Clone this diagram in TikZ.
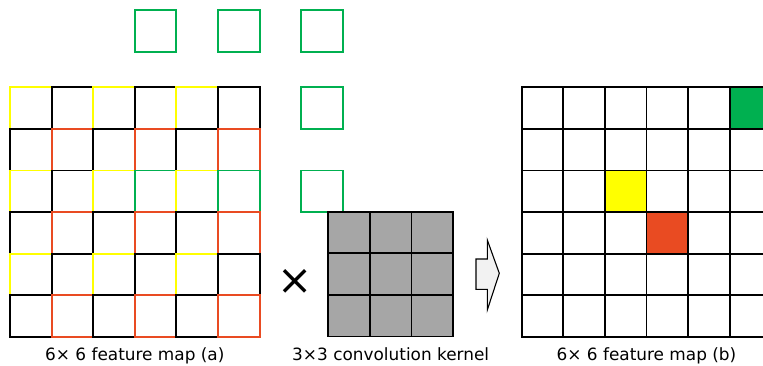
\documentclass[tikz,border=0pt]{standalone}
\usepackage{fontspec}
\setmainfont{DejaVu Sans}
\definecolor{cyel}{HTML}{FFFF00}
\definecolor{cred}{HTML}{E94B22}
\definecolor{cgrn}{HTML}{00B050}
\definecolor{kgray}{HTML}{A6A6A6}
\definecolor{arrowfill}{HTML}{F2F2F2}
\tikzset{
  cell/.style={line width=1.9pt, line join=miter},
  kcell/.style={line width=1.9pt, draw=black, fill=kgray},
  lbl/.style={font=\fontsize{16.9}{18}\selectfont, anchor=base, inner sep=0pt},
  blockarrow/.style={draw=black, fill=arrowfill, line width=1.1pt, line join=miter}
}
\begin{document}
\begin{tikzpicture}[x=1pt,y=-1pt]
\useasboundingbox (0,0) rectangle (763,366);
\clip (0,0) rectangle (763,366);
\def\cs{41.6}
% feature map (a)
\foreach \r in {0,...,5}{
  \foreach \c in {0,...,5}{
    \pgfmathtruncatemacro\code{mod(\c,2)+2*mod(\r,2)}
    \def\col{black}
    \ifnum\code=0 \def\col{cyel}\fi
    \ifnum\code=3 \def\col{cred}\fi
    \ifnum\r=2 \ifodd\c\relax \ifnum\c>1 \def\col{cgrn}\fi\fi\fi
    \draw[cell,draw=\col] (10+\c*\cs, 87.3+\r*\cs) rectangle ++(\cs,\cs);
  }
}
% outer green squares
\foreach \x/\y in {3/10, 5/10, 7/10, 7/87.3, 7/170.5}{
  \draw[cell,draw=cgrn] (10+\x*\cs, \y) rectangle ++(\cs,\cs);
}
% kernel
\foreach \r in {0,1,2}{
  \foreach \c in {0,1,2}{
    \draw[kcell] (328.3+\c*\cs, 211.7+\r*\cs) rectangle ++(\cs,\cs);
  }
}
% multiply sign
\node[inner sep=0pt, font=\fontsize{42}{42}\selectfont] (times) at (295,281.5) {×};
% block arrow
\draw[blockarrow] (476,259) -- (487.3,259) -- (487.3,240) -- (499.3,273.3)
  -- (487.3,310) -- (487.3,289.3) -- (476,289.3) -- cycle;
% feature map (b)
\fill[cgrn] (521.7+5*\cs, 87.3+0*\cs) rectangle ++(\cs,\cs);
\fill[cyel] (521.7+2*\cs, 87.3+2*\cs) rectangle ++(\cs,\cs);
\fill[cred] (521.7+3*\cs, 87.3+3*\cs) rectangle ++(\cs,\cs);
\foreach \r in {0,...,5}{
  \foreach \c in {0,...,5}{
    \draw[cell,draw=black] (521.7+\c*\cs, 87.3+\r*\cs) rectangle ++(\cs,\cs);
  }
}
% labels
\node[lbl] (la) at (134.8,360.3) {6× 6 feature map (a)};
\node[lbl] (lk) at (390.7,360.3) {3×3 convolution kernel};
\node[lbl] (lb) at (646.5,360.3) {6× 6 feature map (b)};
\end{tikzpicture}
\end{document}
